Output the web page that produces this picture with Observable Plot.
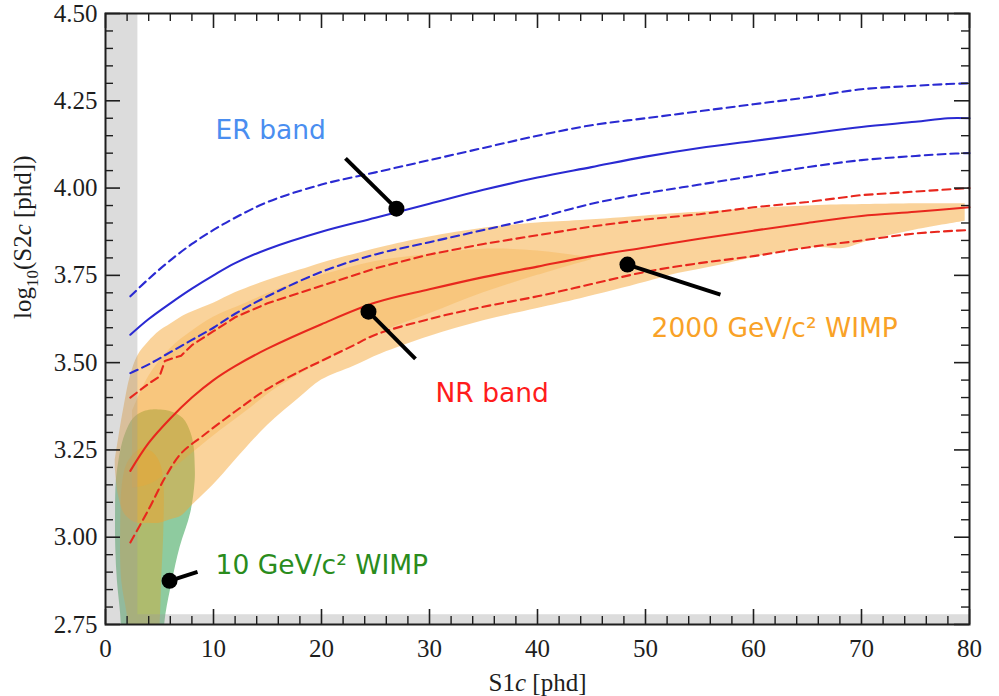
<!DOCTYPE html>
<html>
<head>
<meta charset="utf-8">
<script src="https://cdn.jsdelivr.net/npm/d3@7"></script>
<script src="https://cdn.jsdelivr.net/npm/@observablehq/plot@0.6"></script>
<style>
  body { margin: 0; background: #fff; }
  #chart svg { display: block; }
</style>
</head>
<body>
<div id="chart"></div>
<script>
// ---- ER band (log10 S2c vs S1c): median and band edges ----
const erS1     = [2.3, 4, 6, 8, 10, 12, 15, 20, 25, 30, 35, 40, 45, 50, 55, 60, 65, 70, 75, 78, 80];
const erMedian = [3.58, 3.625, 3.67, 3.712, 3.75, 3.785, 3.825, 3.875, 3.915, 3.955, 3.995, 4.03, 4.06, 4.09, 4.115, 4.135, 4.155, 4.175, 4.19, 4.2, 4.2];
const erUpper  = [3.69, 3.74, 3.793, 3.84, 3.88, 3.915, 3.96, 4.01, 4.045, 4.08, 4.115, 4.15, 4.18, 4.2, 4.22, 4.24, 4.26, 4.283, 4.293, 4.298, 4.3];
const erLower  = [3.47, 3.495, 3.53, 3.565, 3.6, 3.64, 3.69, 3.76, 3.81, 3.845, 3.88, 3.915, 3.955, 3.985, 4.01, 4.035, 4.06, 4.08, 4.092, 4.098, 4.1];

// ---- NR band ----
const nrS1       = [2.3, 4, 6, 8, 10, 12, 15, 20, 25, 30, 35, 40, 45, 50, 55, 60, 65, 70, 75, 80];
const nrMedian   = [3.19, 3.27, 3.34, 3.4, 3.45, 3.49, 3.54, 3.61, 3.672, 3.71, 3.745, 3.775, 3.805, 3.83, 3.855, 3.878, 3.9, 3.92, 3.932, 3.945];
const nrUpperS1  = [2.3, 4, 5, 5.5, 7, 8, 10, 12, 15, 20, 25, 30, 35, 40, 45, 50, 55, 60, 65, 70, 75, 80];
const nrUpper    = [3.4, 3.44, 3.46, 3.505, 3.52, 3.55, 3.59, 3.63, 3.67, 3.72, 3.77, 3.81, 3.84, 3.865, 3.89, 3.91, 3.925, 3.945, 3.96, 3.98, 3.99, 4.0];
const nrLowerS1  = [2.3, 4, 5.5, 7, 9, 12, 15, 18, 20, 23, 25, 30, 35, 40, 45, 50, 55, 60, 65, 70, 75, 80];
const nrLower    = [2.985, 3.08, 3.17, 3.24, 3.29, 3.36, 3.425, 3.475, 3.505, 3.55, 3.58, 3.625, 3.66, 3.69, 3.725, 3.76, 3.785, 3.805, 3.83, 3.85, 3.87, 3.88];

// ---- 2000 GeV/c² WIMP signal region (outer and core contours) ----
const heavyS1   = [0.9, 1.2, 1.7, 2.3, 3, 4, 5, 6, 7, 8, 10, 12, 15, 18, 20, 23, 25.5, 30, 35, 40, 44, 50, 53, 57, 61.6, 66, 68.3, 70.8, 75, 79.6];
const heavyLow  = [3.2, 3.12, 3.07, 3.05, 3.04, 3.04, 3.04, 3.05, 3.06, 3.09, 3.15, 3.22, 3.32, 3.4, 3.45, 3.49, 3.525, 3.575, 3.62, 3.655, 3.683, 3.73, 3.755, 3.78, 3.812, 3.83, 3.827, 3.85, 3.88, 3.905];
const heavyHigh = [3.22, 3.28, 3.37, 3.46, 3.52, 3.56, 3.59, 3.61, 3.63, 3.645, 3.67, 3.7, 3.735, 3.765, 3.785, 3.81, 3.83, 3.86, 3.885, 3.9, 3.907, 3.92, 3.927, 3.935, 3.944, 3.95, 3.952, 3.953, 3.955, 3.955];
const heavyCoreS1   = [2.5, 4, 6, 8, 10, 13, 16, 20, 25, 30, 35, 40, 45];
const heavyCoreLow  = [3.14, 3.15, 3.19, 3.24, 3.29, 3.36, 3.43, 3.5, 3.58, 3.64, 3.7, 3.75, 3.795];
const heavyCoreHigh = [3.36, 3.46, 3.54, 3.59, 3.63, 3.67, 3.71, 3.75, 3.79, 3.81, 3.825, 3.82, 3.8];

// ---- 10 GeV/c² WIMP signal region (contours given as S1 extent per log10 S2) ----
const lightS2    = [2.72, 2.78, 2.875, 2.97, 3.07, 3.16, 3.21, 3.26, 3.3, 3.34, 3.36, 3.365];
const lightLeft  = [1.5, 1.4, 1.1, 0.95, 0.93, 1.0, 1.2, 1.5, 1.9, 2.6, 3.6, 4.6];
const lightRight = [5.4, 5.6, 6.2, 6.9, 7.9, 8.3, 8.3, 8.2, 7.9, 7.2, 6.0, 4.6];
const lightCoreS2    = [2.72, 2.78, 2.875, 3.02, 3.16, 3.21, 3.24, 3.256];
const lightCoreLeft  = [2.2, 2.0, 1.5, 1.4, 1.6, 2.0, 2.7, 3.5];
const lightCoreRight = [5.0, 5.1, 5.2, 5.4, 5.4, 5.1, 4.5, 3.5];

// ---- analysis thresholds ----
const s1Threshold = 3;       // phd
const s2Threshold = 2.778;   // log10(600 phd)

// ---- axes ----
const xMajor = [0, 10, 20, 30, 40, 50, 60, 70, 80];
const xMinor = [2, 4, 6, 8, 12, 14, 16, 18, 22, 24, 26, 28, 32, 34, 36, 38, 42, 44, 46, 48, 52, 54, 56, 58, 62, 64, 66, 68, 72, 74, 76, 78];
const yMajor = [2.75, 3.0, 3.25, 3.5, 3.75, 4.0, 4.25, 4.5];
const yMinor = [2.8, 2.85, 2.9, 2.95, 3.05, 3.1, 3.15, 3.2, 3.3, 3.35, 3.4, 3.45, 3.55, 3.6, 3.65, 3.7, 3.8, 3.85, 3.9, 3.95, 4.05, 4.1, 4.15, 4.2, 4.3, 4.35, 4.4, 4.45];
const xTitle = "S1c [phd]";
const yTitle = "log10(S2c [phd])";

// ---- annotations: label text and pointer (dot on curve, tail towards label) ----
const labels = [
  {text: "ER band", x: 10.19, y: 4.165, color: "#4a8ef0"},
  {text: "NR band", x: 30.56, y: 3.411, color: "#ff1c1c"},
  {text: "2000 GeV/c² WIMP", x: 50.56, y: 3.597, color: "#f9a227"},
  {text: "10 GeV/c² WIMP", x: 10.19, y: 2.918, color: "#2a8c1c"}
];
const pointers = [
  {x1: 26.94, y1: 3.941, x2: 22.22, y2: 4.085},
  {x1: 24.35, y1: 3.646, x2: 28.70, y2: 3.511},
  {x1: 48.33, y1: 3.781, x2: 56.94, y2: 3.695},
  {x1: 5.93,  y1: 2.875, x2: 8.52,  y2: 2.901}
];

// ---- tables for the marks ----
const series = (xs, ys) => xs.map((x, i) => ({x, y: ys[i]}));
const band = (xs, lo, hi) => xs.map((x, i) => ({x, lo: lo[i], hi: hi[i]}));
const vband = (ys, l, r) => ys.map((y, i) => ({y, l: l[i], r: r[i]}));

const W = 999, H = 696;
const mL = 105, mR = 30, mT = 13, mB = 72;
const innerW = W - mL - mR, innerH = H - mT - mB;
const ink = "#1e1e1e";
const serif = "Liberation Serif";
const sans = "DejaVu Sans";
const erColor = "#2a2ad2", nrColor = "#e8271d";
const heavyFill = "#f4a42e";
const dash = "8,5";
const lw = 2.1;

const plot = Plot.plot({
  width: W, height: H,
  marginLeft: mL, marginRight: mR, marginTop: mT, marginBottom: mB,
  x: {domain: [0, 80], axis: null},
  y: {domain: [2.75, 4.5], axis: null},
  style: {fontFamily: serif, fontSize: "25px", color: ink, background: "#fff"},
  marks: [
    // 10 GeV/c² WIMP contours
    Plot.areaX(vband(lightS2, lightLeft, lightRight), {y: "y", x1: "l", x2: "r", fill: "#8ecb9f", curve: "catmull-rom", clip: true}),
    Plot.areaX(vband(lightCoreS2, lightCoreLeft, lightCoreRight), {y: "y", x1: "l", x2: "r", fill: "#aebb6e", curve: "catmull-rom", clip: true}),
    // 2000 GeV/c² WIMP contours
    Plot.areaY(band(heavyS1, heavyLow, heavyHigh), {x: "x", y1: "lo", y2: "hi", fill: heavyFill, fillOpacity: 0.48, curve: "catmull-rom", clip: true}),
    Plot.areaY(band(heavyCoreS1, heavyCoreLow, heavyCoreHigh), {x: "x", y1: "lo", y2: "hi", fill: heavyFill, fillOpacity: 0.28, curve: "catmull-rom", clip: true}),
    // threshold regions
    Plot.rect([{x1: 0, x2: s1Threshold, y1: 2.75, y2: 4.5}], {x1: "x1", x2: "x2", y1: "y1", y2: "y2", fill: "#9a9a9a", fillOpacity: 0.35}),
    Plot.rect([{x1: s1Threshold, x2: 80, y1: 2.75, y2: s2Threshold}], {x1: "x1", x2: "x2", y1: "y1", y2: "y2", fill: "#9a9a9a", fillOpacity: 0.35}),
    // ER band
    Plot.line(series(erS1, erUpper), {x: "x", y: "y", stroke: erColor, strokeWidth: lw, strokeDasharray: dash, curve: "catmull-rom"}),
    Plot.line(series(erS1, erLower), {x: "x", y: "y", stroke: erColor, strokeWidth: lw, strokeDasharray: dash, curve: "catmull-rom"}),
    Plot.line(series(erS1, erMedian), {x: "x", y: "y", stroke: erColor, strokeWidth: lw, curve: "catmull-rom"}),
    // NR band
    Plot.line(series(nrUpperS1, nrUpper), {x: "x", y: "y", stroke: nrColor, strokeWidth: lw, strokeDasharray: dash}),
    Plot.line(series(nrLowerS1, nrLower), {x: "x", y: "y", stroke: nrColor, strokeWidth: lw, strokeDasharray: dash, curve: "catmull-rom"}),
    Plot.line(series(nrS1, nrMedian), {x: "x", y: "y", stroke: nrColor, strokeWidth: lw, curve: "catmull-rom"}),
    // pointers
    Plot.link(pointers, {x1: "x1", y1: "y1", x2: "x2", y2: "y2", stroke: "#000", strokeWidth: 4}),
    Plot.dot(pointers, {x: "x1", y: "y1", r: 8, fill: "#000", stroke: null}),
    // labels
    ...labels.map(d => Plot.text([d], {x: "x", y: "y", text: "text", fill: d.color, textAnchor: "start", lineAnchor: "middle",
      fontFamily: sans, fontSize: 26.5})),
    // inward ticks on all four sides
    Plot.tickX(xMajor, {x: d => d, insetTop: innerH - 15, stroke: ink, strokeWidth: 1.6}),
    Plot.tickX(xMajor, {x: d => d, insetBottom: innerH - 15, stroke: ink, strokeWidth: 1.6}),
    Plot.tickX(xMinor, {x: d => d, insetTop: innerH - 8, stroke: ink, strokeWidth: 1.4}),
    Plot.tickX(xMinor, {x: d => d, insetBottom: innerH - 8, stroke: ink, strokeWidth: 1.4}),
    Plot.tickY(yMajor, {y: d => d, insetRight: innerW - 15, stroke: ink, strokeWidth: 1.6}),
    Plot.tickY(yMajor, {y: d => d, insetLeft: innerW - 15, stroke: ink, strokeWidth: 1.6}),
    Plot.tickY(yMinor, {y: d => d, insetRight: innerW - 8, stroke: ink, strokeWidth: 1.4}),
    Plot.tickY(yMinor, {y: d => d, insetLeft: innerW - 8, stroke: ink, strokeWidth: 1.4}),
    // tick labels
    Plot.text(xMajor, {x: d => d, text: d => String(d), frameAnchor: "bottom", dy: 15, lineAnchor: "top",
      fill: ink, fontFamily: serif, fontSize: 25}),
    Plot.text(yMajor, {y: d => d, text: d => d.toFixed(2), frameAnchor: "left", dx: -8, textAnchor: "end", lineAnchor: "middle",
      fill: ink, fontFamily: serif, fontSize: 25}),
    Plot.frame({stroke: ink, strokeWidth: 2}),
    // axis titles
    Plot.text([xTitle], {text: d => d, frameAnchor: "bottom", dy: 58, lineAnchor: "middle", fill: ink, fontFamily: serif, fontSize: 25}),
    Plot.text([yTitle], {text: d => d, frameAnchor: "left", dx: -83, rotate: -90, lineAnchor: "middle", fill: ink, fontFamily: serif, fontSize: 25})
  ]
});

// Typeset the axis titles: italic "c" and subscript "10".
const svg = d3.select(plot);
function typeset(str, parts) {
  svg.selectAll("text").filter(function () { return this.textContent === str; }).each(function () {
    const t = d3.select(this);
    t.text(null);
    for (const p of parts) {
      const s = t.append("tspan").text(p.text);
      if (p.italic) s.attr("font-style", "italic");
      if (p.size) s.attr("font-size", p.size);
      if (p.dy) s.attr("dy", p.dy);
    }
  });
}
typeset(xTitle, [{text: "S1"}, {text: "c", italic: true}, {text: " [phd]"}]);
typeset(yTitle, [{text: "log"}, {text: "10", size: "17px", dy: "7"}, {text: "(S2", dy: "-7"}, {text: "c", italic: true}, {text: " [phd])"}]);

document.getElementById("chart").append(plot);
</script>
</body>
</html>
